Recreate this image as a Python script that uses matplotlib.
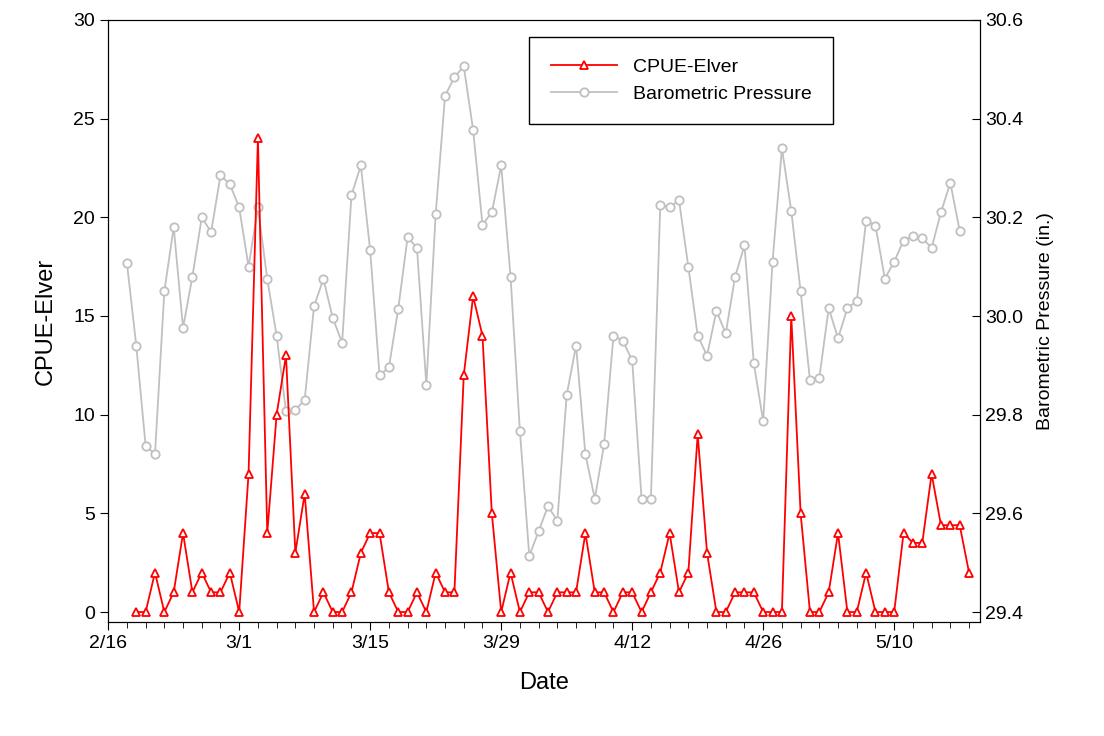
import datetime as dt
import matplotlib
matplotlib.use('Agg')
from matplotlib import pyplot as plt

plt.rcParams['font.family'] = ['Liberation Sans', 'DejaVu Sans']

# CPUE-Elver, daily from 2/19
cpue = [0, 0, 2, 0, 1, 4, 1, 2, 1, 1,
        2, 0, 7, 24, 4, 10, 13, 3, 6, 0, 1, 0, 0, 1, 3, 4, 4, 1, 0, 0,
        1, 0, 2, 1, 1, 12, 16, 14, 5, 0, 2,
        0, 1, 1, 0, 1, 1, 1, 4, 1, 1, 0, 1, 1, 0, 1, 2, 4, 1, 2, 9,
        3, 0, 0, 1, 1, 1, 0, 0, 0, 15,
        5, 0, 0, 1, 4, 0, 0, 2, 0, 0, 0, 4, 3.5, 3.5, 7, 4.4, 4.4, 4.4, 2]

# Barometric pressure, daily from 2/18
pressure = [30.108, 29.94, 29.737, 29.72, 30.05, 30.18, 29.976, 30.08, 30.20, 30.17, 30.285,
            30.267, 30.22, 30.10, 30.22, 30.075, 29.96, 29.807, 29.81, 29.83, 30.02,
            30.075, 29.996, 29.946, 30.245, 30.305, 30.133, 29.88, 29.896, 30.015, 30.16,
            30.138, 29.86, 30.207, 30.446, 30.484, 30.506, 30.377, 30.185, 30.21, 30.305,
            30.08, 29.767, 29.514, 29.564, 29.615, 29.585, 29.84, 29.94, 29.72, 29.63,
            29.74, 29.96, 29.95, 29.91, 29.63, 29.63, 30.225, 30.22, 30.235, 30.10,
            29.96, 29.92, 30.01, 29.965, 30.08, 30.143, 29.904, 29.787, 30.11, 30.34,
            30.213, 30.05, 29.87, 29.875, 30.016, 29.955, 30.016, 30.03, 30.193, 30.183,
            30.076, 30.11, 30.153, 30.163, 30.158, 30.138, 30.21, 30.27, 30.173]

start_cpue = dt.date(2008, 2, 19)
start_pres = dt.date(2008, 2, 18)
dates_cpue = [start_cpue + dt.timedelta(days=i) for i in range(len(cpue))]
dates_pres = [start_pres + dt.timedelta(days=i) for i in range(len(pressure))]

fig = plt.figure(figsize=(11.04, 7.36), dpi=100)
ax1 = fig.add_axes([0.098, 0.155, 0.79, 0.818])
ax2 = ax1.twinx()

l2, = ax2.plot(dates_pres, pressure, color='#c0c0c0', lw=1.3, marker='o', ms=6,
               mfc='white', mec='#c0c0c0', mew=1.3, label='Barometric Pressure')
l1, = ax1.plot(dates_cpue, cpue, color='red', lw=1.3, marker='^', ms=6,
               mfc='white', mec='red', mew=1.3, label='CPUE-Elver')
ax1.set_zorder(ax2.get_zorder() + 1)
ax1.patch.set_visible(False)

ax1.set_xlim(dt.datetime(2008, 2, 16), dt.datetime(2008, 5, 19, 5))
ax1.set_ylim(-0.5, 30)
ax1.set_yticks(range(0, 31, 5))
ax2.set_ylim(29.4 - 1.2 * 0.5 / 30.5, 30.6)
ax2.set_yticks([29.4, 29.6, 29.8, 30.0, 30.2, 30.4, 30.6])

ticks = [dt.date(2008, 2, 16) + dt.timedelta(days=14 * i) for i in range(7)]
ax1.set_xticks(ticks)
ax1.set_xticklabels([f"{d.month}/{d.day}" for d in ticks])
ax1.set_xticks([dt.date(2008, 2, 16) + dt.timedelta(days=2 * i) for i in range(47)], minor=True)

ax1.tick_params(axis='both', which='major', labelsize=14, length=6)
ax1.tick_params(axis='x', which='minor', length=4)
ax2.tick_params(axis='y', labelsize=14, length=6, direction='in')

ax1.set_xlabel('Date', fontsize=17, labelpad=14)
ax1.set_ylabel('CPUE-Elver', fontsize=17, labelpad=12)
ax2.set_ylabel('Barometric Pressure (in.)', fontsize=14, labelpad=10)

leg = ax1.legend(handles=[l1, l2], loc='upper left', bbox_to_anchor=(0.483, 0.972),
                 fontsize=14, fancybox=False, edgecolor='black', framealpha=1,
                 borderpad=1.1, handlelength=3.4, borderaxespad=0)
leg.get_frame().set_linewidth(1.0)

fig.savefig('out.png', dpi=100)
